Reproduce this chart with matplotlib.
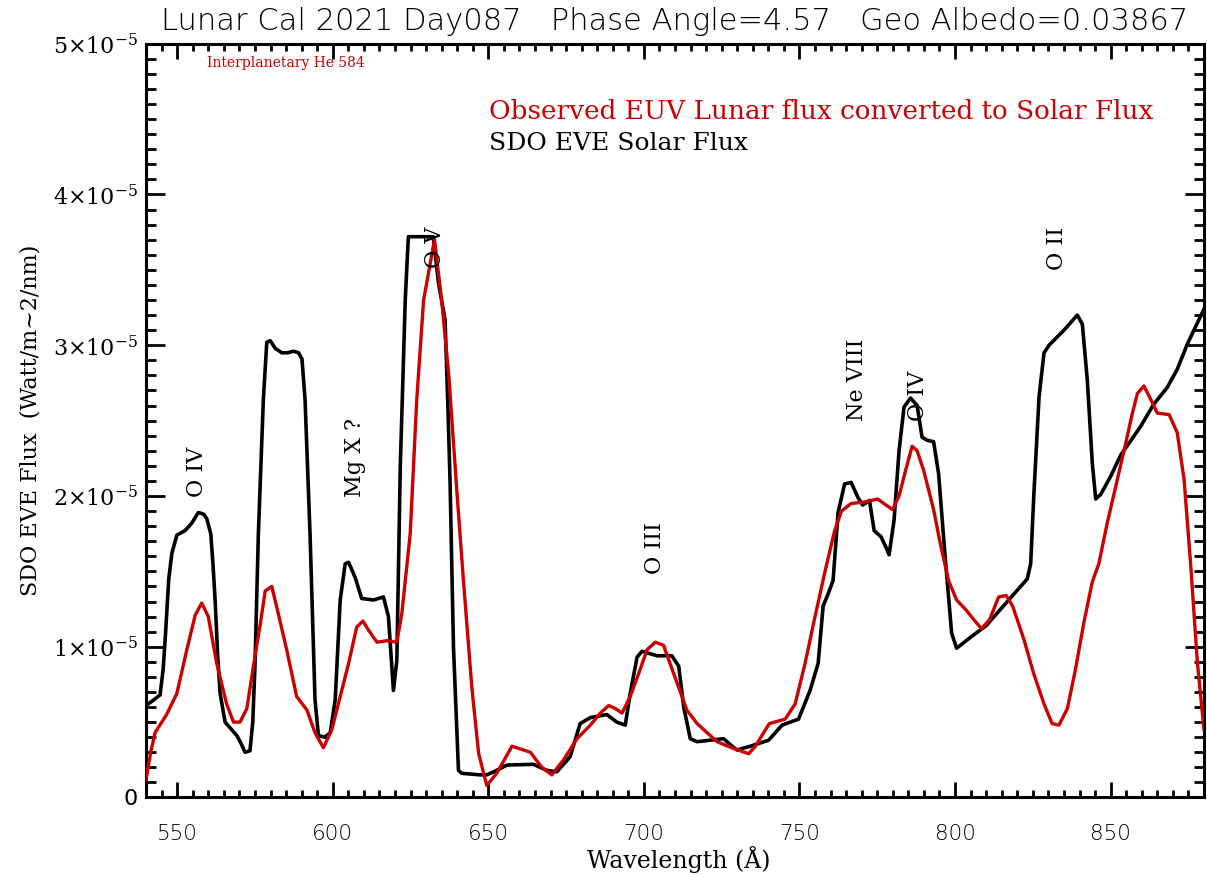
import matplotlib
matplotlib.use('Agg')
import matplotlib.pyplot as plt
from matplotlib.ticker import MultipleLocator, FixedLocator, FixedFormatter
import numpy as np

# SDO EVE solar flux (units of 1e-5 W/m^2/nm)
eve_wave = [540, 542, 544.5, 545.5, 546.3, 547.3, 548.3, 549.9, 552.5, 554.7, 556.8, 558.5,
            559.5, 560.8, 561.5, 562.2, 563.0, 563.8, 565.4, 567.5, 569.2, 570.5, 571.8, 573.4,
            574.3, 575.0, 576.1, 577.7, 578.8, 579.9, 581.5, 583.6, 585.5, 587.4, 589, 590.1,
            591.1, 592.7, 594.3, 595.4, 597.5, 599.2, 600.8, 602.4, 604.0, 605.1, 607.2, 609.3,
            613.1, 616.3, 617.9, 619.5, 620.6, 621.7, 623.3, 624.3, 628, 632.3, 634, 636.1,
            637.0, 637.7, 638.8, 640.4, 641.5, 647.4, 649.5, 651.7, 656, 664.5, 668.8, 672.0,
            676.3, 679.5, 682.8, 688.1, 691.3, 694.0, 695.6, 697.8, 699.4, 704.2, 709.0, 711.2,
            712.8, 714.9, 717.1, 725.6, 727.8, 729.9, 734.2, 740.1, 744.4, 749.7, 753.4, 756.0,
            757.6, 759.2, 760.8, 762.4, 764.5, 766.6, 768.8, 770.3, 772.5, 774.0, 776.2, 777.8,
            778.8, 780.4, 782.0, 783.6, 785.7, 787.8, 789.4, 791.0, 793.1, 794.7, 796.8, 798.9,
            800.5, 804.8, 810, 816.8, 823.2, 824.3, 825.3, 827.0, 828.6, 830.2, 835.0, 839.3,
            840.9, 842.5, 844.1, 845.2, 846.8, 850.0, 853.2, 859.6, 863.9, 868.2, 871.4, 874.7, 880]
eve_flux = [0.61, 0.64, 0.68, 0.85, 1.10, 1.45, 1.62, 1.74, 1.77, 1.82, 1.89, 1.88,
            1.85, 1.75, 1.55, 1.31, 0.95, 0.69, 0.50, 0.45, 0.41, 0.36, 0.30, 0.31,
            0.50, 0.87, 1.75, 2.64, 3.02, 3.03, 2.98, 2.95, 2.95, 2.96, 2.95, 2.91,
            2.64, 1.75, 0.65, 0.41, 0.40, 0.43, 0.65, 1.31, 1.55, 1.56, 1.46, 1.32,
            1.31, 1.33, 1.20, 0.71, 0.91, 2.19, 3.30, 3.72, 3.72, 3.72, 3.41, 3.17,
            2.6, 2.1, 1.0, 0.18, 0.16, 0.15, 0.15, 0.17, 0.215, 0.22, 0.18, 0.17,
            0.27, 0.49, 0.53, 0.55, 0.50, 0.48, 0.69, 0.93, 0.97, 0.94, 0.94, 0.87,
            0.60, 0.39, 0.37, 0.39, 0.35, 0.315, 0.34, 0.38, 0.48, 0.52, 0.71, 0.89,
            1.27, 1.35, 1.44, 1.89, 2.08, 2.09, 1.99, 1.94, 1.97, 1.77, 1.73, 1.66,
            1.61, 1.84, 2.30, 2.59, 2.65, 2.60, 2.39, 2.37, 2.36, 2.15, 1.60, 1.09,
            0.99, 1.06, 1.14, 1.30, 1.45, 1.55, 2.0, 2.66, 2.95, 3.0, 3.10, 3.20,
            3.14, 2.77, 2.22, 1.98, 2.01, 2.13, 2.27, 2.46, 2.61, 2.72, 2.84, 3.01, 3.24]

# Lunar EUV flux converted to solar flux (units of 1e-5 W/m^2/nm)
lunar_wave = [540, 541.5, 542.9, 546.6, 549.9, 553.1, 555.8, 557.9, 560.0, 562.7, 565.9, 568.1,
              570.2, 572.4, 574.5, 576.7, 578.3, 580.4, 582.5, 585.2, 588.4, 591.7, 594.3, 597.0,
              599.7, 602.4, 605.1, 607.7, 609.7, 611.5, 614.2, 617.4, 620.6, 622.2, 624.9, 627.0,
              629.2, 632.7, 635, 637.3, 640, 642, 644.7, 646.9, 649.5, 652.7, 657.6, 663.5,
              667.2, 670.4, 674.2, 678.5, 682.8, 686.0, 688.7, 690.8, 693.0, 695.6, 698.3, 701.0,
              703.7, 706.3, 709.6, 713.8, 717.1, 723.5, 728.8, 733.7, 735.8, 740.3, 745.4, 748.6,
              751.8, 755.0, 758.1, 761.3, 763.5, 766.6, 770.9, 775.1, 777.8, 779.9, 782.0, 784.1,
              786.2, 787.8, 789.9, 793.1, 795.2, 797.9, 800.5, 803.7, 806.4, 808.5, 811.1, 814.0,
              816.4, 818.5, 822.1, 825.3, 828.6, 831.2, 833.4, 836.1, 838.7, 841.4, 844.1, 846.2,
              848.9, 851.6, 854.3, 857.0, 858.6, 860.7, 862.9, 865.0, 868.8, 871.4, 873.6, 875.7,
              877.9, 880]
lunar_flux = [0.12, 0.30, 0.43, 0.55, 0.69, 0.98, 1.21, 1.29, 1.20, 0.89, 0.62, 0.50,
              0.50, 0.59, 0.87, 1.15, 1.37, 1.40, 1.22, 0.98, 0.67, 0.58, 0.43, 0.33,
              0.45, 0.67, 0.89, 1.13, 1.17, 1.11, 1.03, 1.04, 1.03, 1.22, 1.75, 2.64,
              3.30, 3.70, 3.3, 2.8, 2.0, 1.44, 0.73, 0.29, 0.08, 0.16, 0.34, 0.30,
              0.20, 0.15, 0.25, 0.39, 0.48, 0.56, 0.61, 0.59, 0.56, 0.67, 0.82, 0.98,
              1.03, 1.01, 0.82, 0.58, 0.49, 0.37, 0.325, 0.29, 0.34, 0.49, 0.52, 0.62,
              0.89, 1.20, 1.49, 1.77, 1.90, 1.95, 1.96, 1.98, 1.94, 1.91, 2.0, 2.17,
              2.33, 2.30, 2.17, 1.91, 1.69, 1.44, 1.31, 1.24, 1.17, 1.12, 1.18, 1.33,
              1.34, 1.27, 1.05, 0.82, 0.62, 0.49, 0.48, 0.59, 0.85, 1.16, 1.43, 1.55,
              1.82, 2.06, 2.30, 2.55, 2.68, 2.73, 2.64, 2.55, 2.54, 2.42, 2.11, 1.55,
              0.89, 0.45]

# line identifications: label, wavelength, bottom of text (1e-5)
line_names = ['O IV', 'Mg X ?', 'O V', 'O III', 'Ne VIII', 'O IV', 'O II']
line_wave = [556.4, 607.2, 632.9, 703.7, 768.6, 788.2, 832.9]
line_ypos = [1.99, 1.99, 3.51, 1.48, 2.50, 2.50, 3.50]

ytick_vals = [0, 1, 2, 3, 4, 5]
ytick_labels = ['0'] + [r'$%d{\times}10^{-5}$' % v for v in ytick_vals[1:]]

red = '#cc0000'
serif = 'DejaVu Serif'
plt.rcParams['mathtext.fontset'] = 'dejavuserif'

fig = plt.figure(figsize=(12.07, 8.75), dpi=100)
ax = fig.add_axes([0.121, 0.0886, 0.8765, 0.8614])

ax.plot(eve_wave, np.array(eve_flux) * 1e-5, color='black', lw=2.6,
        solid_joinstyle='round', zorder=3)
ax.plot(lunar_wave, np.array(lunar_flux) * 1e-5, color=red, lw=2.4,
        solid_joinstyle='round', zorder=4)

ax.set_xlim(540, 880)
ax.set_ylim(0, 5e-5)

ax.xaxis.set_major_locator(MultipleLocator(50))
ax.xaxis.set_minor_locator(MultipleLocator(5))
ax.yaxis.set_major_locator(FixedLocator([v * 1e-5 for v in ytick_vals]))
ax.yaxis.set_major_formatter(FixedFormatter(ytick_labels))
ax.yaxis.set_minor_locator(MultipleLocator(0.1e-5))

ax.tick_params(axis='both', which='both', direction='in', top=True, right=True,
               color='black', width=2)
ax.tick_params(axis='x', which='major', length=11, pad=19, labelsize=15.5)
ax.tick_params(axis='x', which='minor', length=5)
ax.tick_params(axis='y', which='major', length=14, pad=6, labelsize=16)
ax.tick_params(axis='y', which='minor', length=7)
for lab in ax.get_xticklabels():
    lab.set_fontweight('light')
for sp in ax.spines.values():
    sp.set_linewidth(2.2)

ax.set_title('Lunar Cal 2021 Day087   Phase Angle=4.57   Geo Albedo=0.03867',
             fontsize=22, fontweight='light', pad=10)
# x label placed just under the tick labels, as in the original
fig.text(0.5625, 0.018, 'Wavelength (Å)', family=serif, fontsize=17,
         ha='center', va='center')
ax.set_ylabel('SDO EVE Flux  (Watt/m~2/nm)', family=serif, fontsize=16, labelpad=8)

ax.text(650.3, 4.55e-5, 'Observed EUV Lunar flux converted to Solar Flux',
        color=red, family=serif, fontsize=18.9, va='center')
ax.text(650.3, 4.34e-5, 'SDO EVE Solar Flux', color='black', family=serif,
        fontsize=18, va='center')
ax.text(559.6, 4.87e-5, 'Interplanetary He 584', color=red, family=serif,
        fontsize=10, va='center')

for name, w, yb in zip(line_names, line_wave, line_ypos):
    ax.text(w, yb * 1e-5, name, rotation=90, ha='center', va='bottom',
            family=serif, fontsize=16, zorder=5)

fig.savefig('out.png', dpi=100)
